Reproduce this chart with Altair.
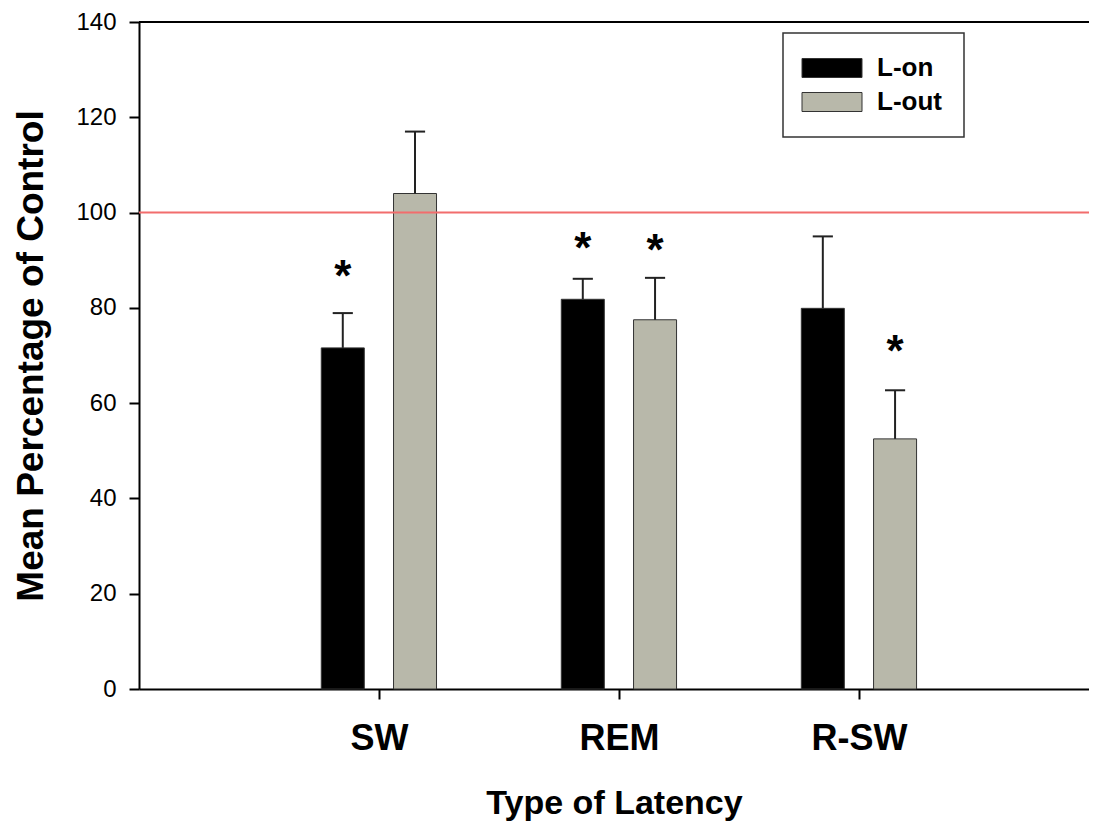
import altair as alt
import pandas as pd

categories = ["SW", "REM", "R-SW"]
groups = ["L-on", "L-out"]
l_on_mean = [71.6, 81.8, 79.9]
l_on_upper = [78.9, 86.1, 95.0]
l_out_mean = [104.0, 77.5, 52.5]
l_out_upper = [117.0, 86.3, 62.7]
# where the significance asterisks sit on the value axis (None = no asterisk)
l_on_star = [88.0, 93.8, None]
l_out_star = [None, 93.5, 72.2]
control_level = [100]
y_ticks = [0, 20, 40, 60, 80, 100, 120, 140]

rows = []
for i, c in enumerate(categories):
    rows.append(dict(cat=c, pos=i + 1, group=groups[0], mean=l_on_mean[i],
                     upper=l_on_upper[i], star=l_on_star[i]))
    rows.append(dict(cat=c, pos=i + 1, group=groups[1], mean=l_out_mean[i],
                     upper=l_out_upper[i], star=l_out_star[i]))
df = pd.DataFrame(rows)

FONT = "Liberation Sans, Arial, Helvetica, sans-serif"

label_expr = " : ".join(
    f"datum.value == {i + 1} ? '{c}'" for i, c in enumerate(categories)
) + " : ''"

xscale = alt.Scale(domain=[0, 3.958], nice=False, zero=False)
yscale = alt.Scale(domain=[0, 140], nice=False)

xaxis = alt.Axis(values=[1, 2, 3], labelExpr=label_expr, grid=False,
                 labelFont=FONT, labelFontSize=36, labelFontWeight="bold",
                 labelColor="black", labelPadding=22, tickSize=10, tickWidth=2,
                 tickColor="black", domainColor="black", domainWidth=2,
                 title="Type of Latency", titleFont=FONT, titleFontSize=34,
                 titleFontWeight="bold", titleColor="black", titlePadding=30)
yaxis = alt.Axis(values=y_ticks, grid=False, labelFont=FONT, labelFontSize=24,
                 labelColor="black", labelPadding=13, tickSize=10, tickWidth=2,
                 tickColor="black", domainColor="black", domainWidth=2,
                 title="Mean Percentage of Control", titleFont=FONT,
                 titleFontSize=37, titleFontWeight="bold", titleColor="black",
                 titlePadding=25)

base = alt.Chart(df).transform_calculate(
    xc="datum.pos + (datum.group == 'L-on' ? -0.151 : 0.150)"
)

bars = base.transform_calculate(
    xa="datum.xc - 0.0896", xb="datum.xc + 0.0896"
).mark_bar(stroke="#333333", strokeWidth=1).encode(
    x=alt.X("xa:Q", scale=xscale, axis=xaxis),
    x2="xb:Q",
    y=alt.Y("mean:Q", scale=yscale, axis=yaxis),
    y2=alt.datum(0),
    color=alt.Color(
        "group:N",
        scale=alt.Scale(domain=groups, range=["#000000", "#b8b8aa"]),
        legend=alt.Legend(
            title=None, orient="none", legendX=644, legendY=11,
            fillColor="white", strokeColor="#333333",
            padding=22, labelFont=FONT, labelFontSize=26,
            labelFontWeight="bold", labelColor="black",
            symbolType="M-1.6,-0.95H4.4V0.95H-1.6Z", symbolSize=400,
            symbolStrokeColor="#333333", symbolStrokeWidth=1,
            labelOffset=46, rowPadding=8,
        ),
    ),
)

err_line = base.mark_rule(color="#222222", strokeWidth=2).encode(
    x=alt.X("xc:Q", scale=xscale),
    y=alt.Y("mean:Q", scale=yscale),
    y2="upper:Q",
)

err_cap = base.transform_calculate(
    ca="datum.xc - 0.042", cb="datum.xc + 0.042"
).mark_rule(color="#222222", strokeWidth=2).encode(
    x=alt.X("ca:Q", scale=xscale),
    x2="cb:Q",
    y=alt.Y("upper:Q", scale=yscale),
)

stars = base.transform_filter("isValid(datum.star)").mark_text(
    text="*", font=FONT, fontSize=44, fontWeight="bold", color="black",
    baseline="alphabetic", dy=21,
).encode(
    x=alt.X("xc:Q", scale=xscale),
    y=alt.Y("star:Q", scale=yscale),
)

control = alt.Chart(pd.DataFrame({"level": control_level})).mark_rule(
    color="#f26d6d", strokeWidth=2
).encode(y=alt.Y("level:Q", scale=yscale))

top_line = alt.Chart(pd.DataFrame({"top": [max(y_ticks)]})).mark_rule(
    color="black", strokeWidth=2
).encode(y=alt.Y("top:Q", scale=yscale))

chart = alt.layer(bars, err_line, err_cap, stars, control, top_line).properties(
    width=950, height=667,
    autosize=alt.AutoSizeParams(type="none"),
    padding={"left": 131, "top": 14, "right": 0, "bottom": 135},
    background="white",
).configure_view(stroke=None).configure_legend(strokeWidth=1.5)

chart.save("out.html", embed_options={"renderer": "svg", "actions": False})
